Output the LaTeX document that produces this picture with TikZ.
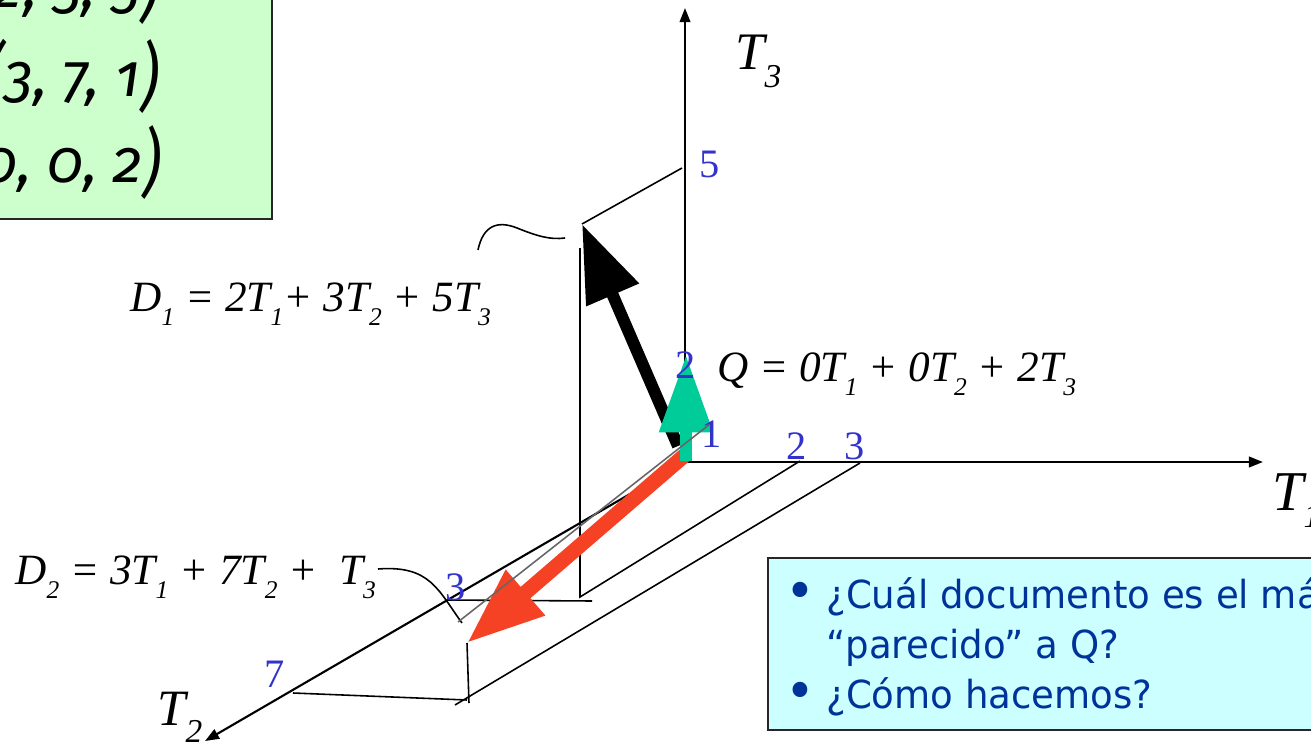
\documentclass[tikz,border=0pt]{standalone}
\usepackage{fontspec}
\setmainfont{Liberation Serif}
\newfontfamily\boxfont[Numbers=OldStyle]{Fira Sans}
\newfontfamily\tahoma[FakeStretch=0.96]{DejaVu Sans}
\usetikzlibrary{arrows.meta}
\definecolor{numblue}{HTML}{3333CC}
\definecolor{qgreen}{HTML}{00CC99}
\definecolor{dred}{HTML}{F54225}
\definecolor{boxgreen}{HTML}{CCFFCC}
\definecolor{boxcyan}{HTML}{CCFFFF}
\definecolor{txtblue}{HTML}{003399}
\newcommand\subx[1]{\raisebox{-8.5pt}{\fontsize{14.5}{14.5}\selectfont #1}}
\newcommand\subT[1]{\raisebox{-10pt}{\fontsize{19}{19}\selectfont #1}}
\newcommand\bigpar[1]{\raisebox{-3pt}{\scalebox{1}[1.25]{#1}}}
\tikzset{
  axis/.style={line width=1.2pt,-{Triangle[length=8pt,width=6pt]}},
  edge/.style={line width=0.9pt},
  grayline/.style={line width=0.9pt,draw=black!60},
  num/.style={text=numblue,font=\fontsize{23}{23}\selectfont,inner sep=0pt},
  eq/.style={font=\fontsize{24.6}{28}\selectfont\itshape,inner sep=0pt,anchor=base west},
  axlab/.style={font=\fontsize{30}{30}\selectfont\itshape,inner sep=0pt,anchor=base west},
  vecline/.style={font=\boxfont\itshape\fontsize{34}{34}\selectfont,inner sep=0pt,anchor=base east},
  bul/.style={font=\tahoma\fontsize{22}{22}\selectfont,text=txtblue,inner sep=0pt,anchor=base west},
  dot/.style={font=\tahoma\fontsize{30}{30}\selectfont,text=txtblue,inner sep=0pt,anchor=base}
}
\begin{document}
\begin{tikzpicture}[x=0.02cm,y=-0.02cm]
\useasboundingbox (0,0) rectangle (1311,743);
\clip (0,0) rectangle (1311,743);
% coordinates
\coordinate (O) at (685,462);
\coordinate (t3end) at (685,8);
\coordinate (t1end) at (1263,462);
\coordinate (t2end) at (205,741);
\coordinate (p5) at (682,168);
\coordinate (d1tip) at (582,224);
\coordinate (d1start) at (678,446);
\coordinate (vtop) at (580,248);
\coordinate (vbot) at (580,597);
\coordinate (t1two) at (800,461);
\coordinate (t1three) at (860,463);
\coordinate (c3) at (455,705);
\coordinate (t2three) at (447,600);
\coordinate (hend) at (592,601);
\coordinate (t2seven) at (293,693);
\coordinate (c7) at (467,700);
\coordinate (d2tip) at (467,643);
\coordinate (d2start) at (685,455);
\coordinate (d2foot) at (469,703);
\coordinate (g1) at (710,424);
\coordinate (g2) at (458,622);
\coordinate (qstart) at (686,461);
\coordinate (qtip) at (686,355);
\coordinate (cw1) at (478,250);
\coordinate (cw2) at (565,238);
\coordinate (cx1) at (378,569);
\coordinate (cx2) at (462,623);

% green box
\draw[fill=boxgreen,draw=black!85,line width=1.2pt] (-10,-10) rectangle (272,219);
\node[vecline] (v1) at (160,8) {\bigpar{(}2, 3, 5\bigpar{)}};
\node[vecline] (v2) at (160,97) {\bigpar{(}3, 7, 1\bigpar{)}};
\node[vecline] (v3) at (162,183) {\bigpar{(}0, 0, 2\bigpar{)}};

% axes
\draw[axis] (O) -- (t3end);
\draw[axis] (O) -- (t1end);
\draw[axis] (O) -- (t2end);

% projection lines
\draw[edge] (p5) -- (d1tip);
\draw[edge] (vtop) -- (vbot) -- (t1two);
\draw[edge] (t2three) -- (hend);
\draw[edge] (t1three) -- (c3);
\draw[edge] (t2seven) -- (c7);
\draw[edge] (d2tip) -- (d2foot);

% callouts
\draw[edge] (cw1) .. controls (483,226) and (497,220) .. (517,228) .. controls (537,236) and (550,240) .. (cw2);
\draw[edge] (cx1) .. controls (430,565) and (438,590) .. (cx2);

% vectors
\draw[line width=6.8pt,-{Triangle[length=44pt,width=31pt]}] (d1start) -- (d1tip);
\draw[dred,line width=8.5pt,-{Triangle[length=44pt,width=32pt]}] (d2start) -- (d2tip);
\draw[qgreen,line width=6.8pt,-{Triangle[length=44pt,width=29pt]}] (qstart) -- (qtip);
\draw[grayline] (g1) -- (g2);

% axis labels
\node[axlab] (lt3) at (735,70) {T\subT{3}};
\node[axlab,font=\fontsize{32}{32}\selectfont\itshape] (lt1) at (1272,510) {T\subT{1}};
\node[axlab,font=\fontsize{29}{29}\selectfont\itshape] (lt2) at (157,725) {T\subT{2}};

% numbers
\node[num] (n5) at (710,164) {5};
\node[num] (n2q) at (686,365) {2};
\node[num] (n1) at (712,434) {1};
\node[num] (n2a) at (797,446) {2};
\node[num] (n3a) at (855,446) {3};
\node[num] (n3b) at (456,587) {3};
\node[num] (n7) at (275,674) {7};

% equations
\node[eq] (eqd1) at (130,311) {D\subx{1} = 2T\subx{1}+ 3T\subx{2} + 5T\subx{3}};
\node[eq] (eqq) at (717,381) {Q = 0T\subx{1} + 0T\subx{2} + 2T\subx{3}};
\node[eq] (eqd2) at (15,584) {D\subx{2} = 3T\subx{1} + 7T\subx{2} + \ T\subx{3}};

% question box
\draw[fill=boxcyan,draw=black!85,line width=1.2pt] (768,558) rectangle (1330,730);
\node[dot] (b1) at (800,609) {•};
\node[bul] (q1) at (826,608) {¿Cuál documento es el má};
\node[bul] (q2) at (826,658) {“parecido” a Q?};
\node[dot] (b2) at (800,709) {•};
\node[bul] (q3) at (826,708) {¿Cómo hacemos?};
\end{tikzpicture}
\end{document}
